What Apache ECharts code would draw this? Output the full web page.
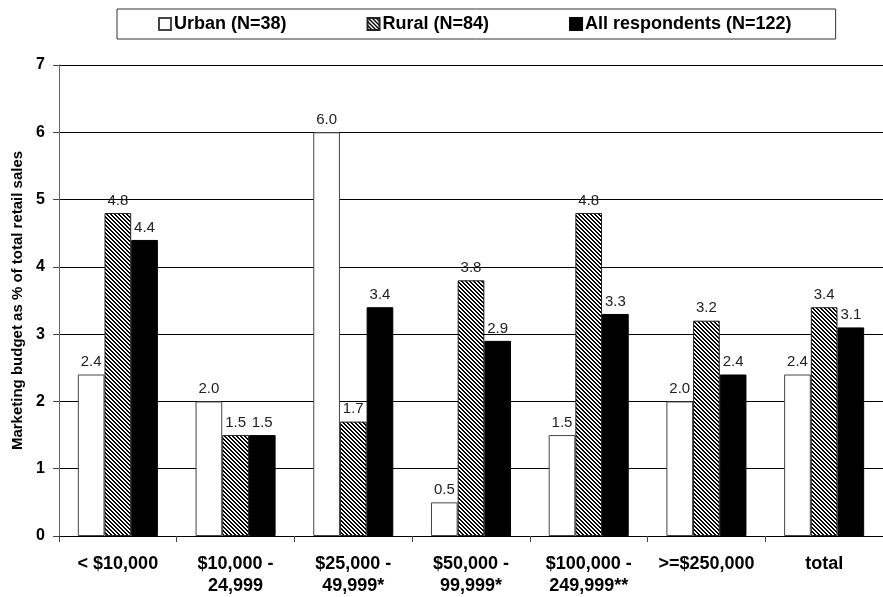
<!DOCTYPE html>
<html>
<head>
<meta charset="utf-8">
<script src="https://cdn.jsdelivr.net/npm/echarts@6/dist/echarts.min.js"></script>
<style>
html,body{margin:0;padding:0;background:#fff;}
#chart{width:883px;height:597px;}
</style>
</head>
<body>
<div id="chart"></div>
<script>
const categories = ["< $10,000", "$10,000 -\n24,999", "$25,000 -\n49,999*", "$50,000 -\n99,999*", "$100,000 -\n249,999**", ">=$250,000", "total"];
const seriesNames = ["Urban (N=38)", "Rural (N=84)", "All respondents (N=122)"];
const urban = [2.4, 2.0, 6.0, 0.5, 1.5, 2.0, 2.4];
const rural = [4.8, 1.5, 1.7, 3.8, 4.8, 3.2, 3.4];
const allResp = [4.4, 1.5, 3.4, 2.9, 3.3, 2.4, 3.1];
const yTicks = { min: 0, max: 7, interval: 1 };
const yTitle = "Marketing budget as % of total retail sales";

function hatch() {
  const n = 4;
  const c = document.createElement('canvas');
  c.width = n; c.height = n;
  const ctx = c.getContext('2d');
  const img = ctx.createImageData(n, n);
  for (let y = 0; y < n; y++) {
    for (let x = 0; x < n; x++) {
      const k = (((x - y) % n) + n) % n;
      const v = k < 2 ? 0 : 255;
      const i = (y * n + x) * 4;
      img.data[i] = v; img.data[i+1] = v; img.data[i+2] = v; img.data[i+3] = 255;
    }
  }
  ctx.putImageData(img, 0, 0);
  return c;
}
const hatchPattern = { image: hatch(), repeat: 'repeat' };

const font = 'Arial, "Liberation Sans", sans-serif';
const labelCfg = {
  show: true, position: 'top', distance: 5,
  fontFamily: font, fontSize: 15, color: '#222',
  formatter: p => p.value.toFixed(1)
};

const chart = echarts.init(document.getElementById('chart'), null, { renderer: 'canvas' });
chart.setOption({
  animation: false,
  backgroundColor: '#fff',
  legend: {
    top: 9, left: 117,
    itemWidth: 12, itemHeight: 12, itemGap: 80,
    padding: [6, 44, 6, 41],
    borderColor: '#333', borderWidth: 1,
    icon: 'rect',
    textStyle: { fontFamily: font, fontSize: 18, fontWeight: 'bold', color: '#000', padding: [0, 0, 0, -2] },
    data: seriesNames
  },
  grid: { left: 59, right: -4, top: 65, bottom: 56, containLabel: false },
  xAxis: {
    type: 'category',
    data: categories,
    axisLine: { lineStyle: { color: '#000', width: 1 } },
    axisTick: { show: true, length: 6, lineStyle: { color: '#444' } },
    axisLabel: { fontFamily: font, fontSize: 18, fontWeight: 'bold', color: '#000', lineHeight: 22, margin: 17, interval: 0 }
  },
  yAxis: {
    type: 'value',
    min: yTicks.min, max: yTicks.max, interval: yTicks.interval,
    name: yTitle,
    nameLocation: 'middle',
    nameGap: 31,
    nameTextStyle: { fontFamily: font, fontSize: 15, fontWeight: 'bold', color: '#000' },
    axisLine: { show: true, lineStyle: { color: '#666', width: 1 } },
    axisTick: { show: true, length: 6, lineStyle: { color: '#444' } },
    axisLabel: { fontFamily: font, fontSize: 16, fontWeight: 'bold', color: '#000', margin: 14 },
    splitLine: { show: true, lineStyle: { color: '#000', width: 1 } }
  },
  series: [
    {
      name: seriesNames[0], type: 'bar', data: urban,
      barGap: '0%', barCategoryGap: '32%',
      itemStyle: { color: '#fff', borderColor: '#444', borderWidth: 1 },
      label: labelCfg
    },
    {
      name: seriesNames[1], type: 'bar', data: rural,
      barGap: '0%', barCategoryGap: '32%',
      itemStyle: { color: hatchPattern, borderColor: '#222', borderWidth: 1 },
      label: labelCfg
    },
    {
      name: seriesNames[2], type: 'bar', data: allResp,
      barGap: '0%', barCategoryGap: '32%',
      itemStyle: { color: '#000', borderColor: '#000', borderWidth: 1 },
      label: labelCfg
    }
  ]
});
</script>
</body>
</html>
